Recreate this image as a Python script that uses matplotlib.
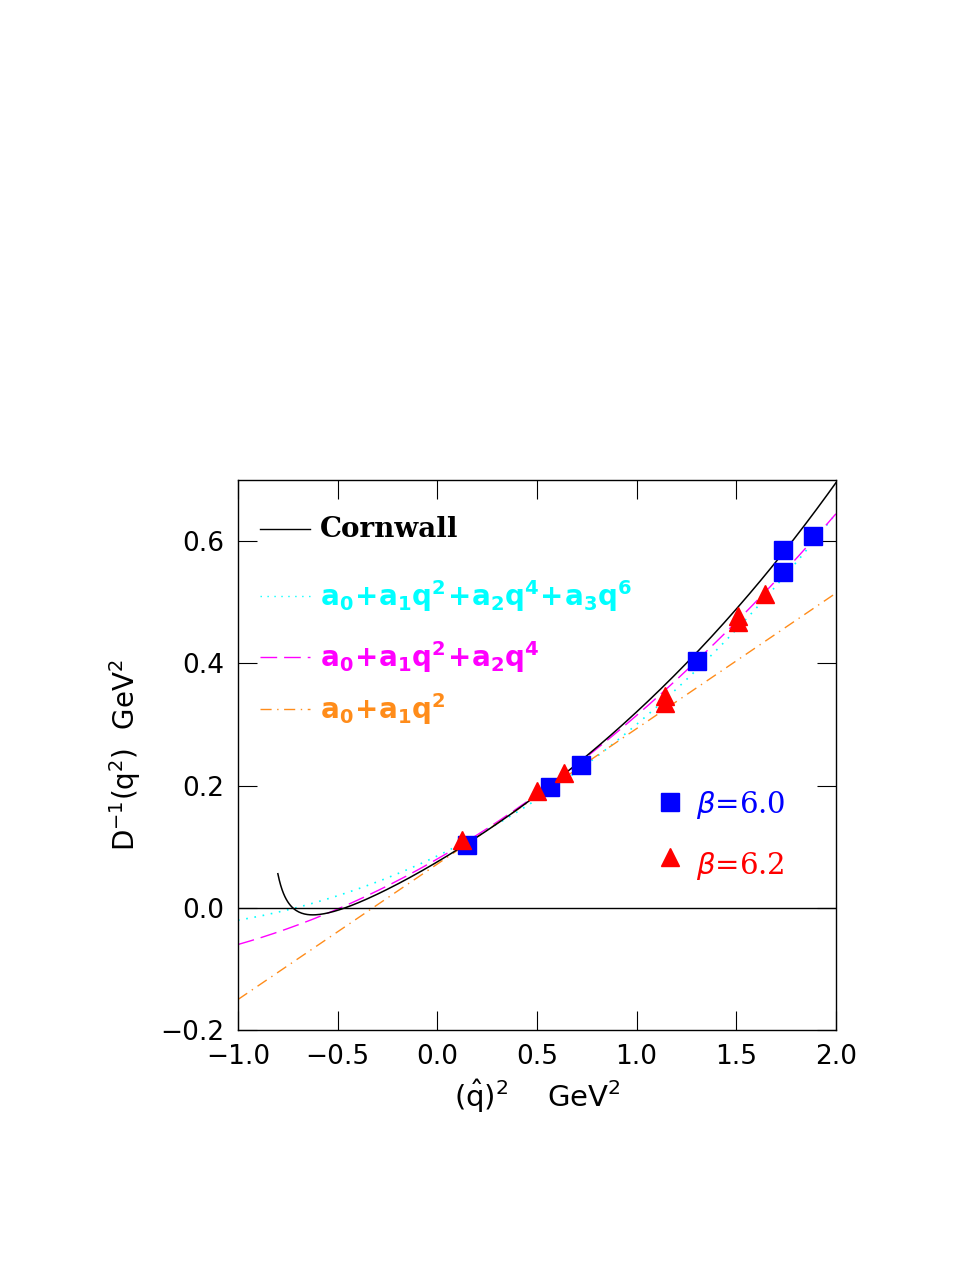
import numpy as np
import matplotlib
matplotlib.use("Agg")
import matplotlib.pyplot as plt

# data
sq_x = [0.149, 0.566, 0.721, 1.303, 1.735, 1.735, 1.885]
sq_y = [0.103, 0.197, 0.233, 0.404, 0.585, 0.550, 0.608]
tr_x = [0.124, 0.50, 0.636, 1.14, 1.14, 1.509, 1.509, 1.644]
tr_y = [0.111, 0.192, 0.220, 0.347, 0.335, 0.478, 0.468, 0.514]
lin_coef = [0.0717, 0.2217]
quad_coef = [0.08, 0.1875, 0.0475]
cub_coef = [0.085, 0.157, 0.055, 0.0033]
corn_x = [-0.8, -0.72, -0.65, -0.5, 0.0, 0.5, 0.75, 1.0, 1.5, 1.75, 2.0]
corn_y = [0.055, 0.0, -0.01, -0.004, 0.07, 0.185, 0.25, 0.33, 0.48, 0.585, 0.70]

fig = plt.figure(figsize=(9.77, 12.64), dpi=100)
ax = fig.add_axes([0.2436, 0.1851, 0.612, 0.435])

def poly(c, x):
    return sum(ci * x**i for i, ci in enumerate(c))

x = np.linspace(-1, 2, 400)
ax.plot(x, poly(cub_coef, x), color='cyan', ls=(0, (1, 4)), lw=1.2)
ax.plot(x, poly(quad_coef, x), color='magenta', ls=(0, (12, 5)), lw=1)
ax.plot(x, poly(lin_coef, x), color='#ff8c1a', ls=(0, (8, 4, 1, 4)), lw=1)
# Cornwall curve: least-squares fit through read points
cx = np.array(corn_x); cy = np.array(corn_y)
basis = lambda t: np.vstack([np.ones_like(t), t, t**2, t**3, 1/(t+0.88)]).T
coef, *_ = np.linalg.lstsq(basis(cx), cy, rcond=None)
xc = np.linspace(-0.8, 2.0, 400)
yc = basis(xc) @ coef
ax.plot(xc, yc, color='black', lw=1.1)
ax.axhline(0, color='black', lw=1)

ax.plot(sq_x, sq_y, 's', color='blue', ms=13, ls='none')
ax.plot(tr_x, tr_y, '^', color='red', ms=13, ls='none')

ax.set_xlim(-1, 2); ax.set_ylim(-0.2, 0.7)
ax.set_xticks([-1, -0.5, 0, 0.5, 1, 1.5, 2])
ax.set_xticklabels(['\u22121.0', '\u22120.5', '0.0', '0.5', '1.0', '1.5', '2.0'])
ax.set_yticks([-0.2, 0, 0.2, 0.4, 0.6])
ax.set_yticklabels(['\u22120.2', '0.0', '0.2', '0.4', '0.6'])
ax.tick_params(direction='in', length=14, top=True, right=True, labelsize=19, pad=10)
for s in ax.spines.values():
    s.set_linewidth(1)
ax.set_xlabel(r'$(\hat{\mathrm{q}})^2\quad\ \mathrm{GeV}^2$', fontsize=21, labelpad=6)
ax.set_ylabel(r'$\mathrm{D}^{-1}(\mathrm{q}^2)\ \ \mathrm{GeV}^2$', fontsize=20, labelpad=12)

# legend
lx0, lx1, tx = -0.89, -0.64, -0.59
fs = dict(fontsize=20, family='DejaVu Serif', fontweight='bold', va='center')
items = [(0.62, 'black', '-', 'Cornwall'),
         (0.51, 'cyan', (0, (1, 4)), r'$\mathbf{a_0\!+\!a_1q^2\!+\!a_2q^4\!+\!a_3q^6}$'),
         (0.41, 'magenta', (0, (12, 5)), r'$\mathbf{a_0\!+\!a_1q^2\!+\!a_2q^4}$'),
         (0.325, '#ff8c1a', (0, (8, 4, 1, 4)), r'$\mathbf{a_0\!+\!a_1q^2}$')]
for yy, col, ls, lab in items:
    ax.plot([lx0, lx1], [yy, yy], color=col, ls=ls, lw=1)
    ax.text(tx, yy, lab, color=col, **fs)
ax.plot([1.17], [0.173], 's', color='blue', ms=13)
ax.text(1.3, 0.168, r'$\beta$=6.0', color='blue', fontsize=21, family='DejaVu Serif', va='center')
ax.plot([1.17], [0.083], '^', color='red', ms=13)
ax.text(1.3, 0.068, r'$\beta$=6.2', color='red', fontsize=21, family='DejaVu Serif', va='center')

fig.savefig('out.png', dpi=100)
